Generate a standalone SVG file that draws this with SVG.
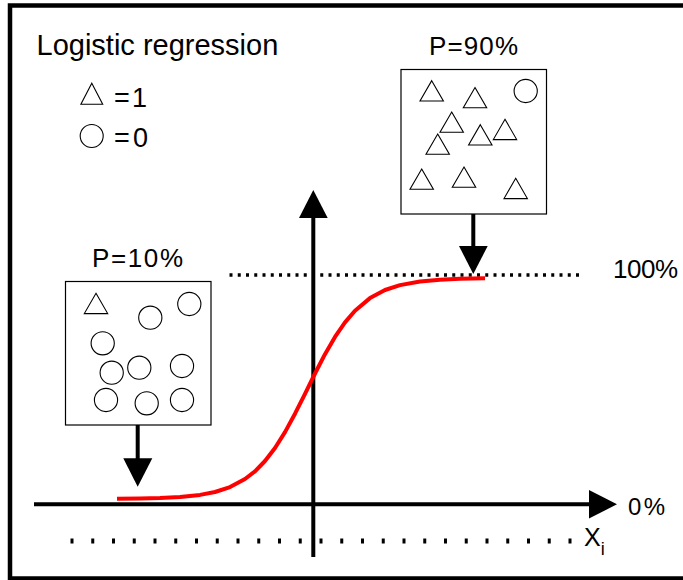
<svg xmlns="http://www.w3.org/2000/svg" width="683" height="580" viewBox="0 0 683 580">
  <style>
    .txt { font-family: "Liberation Sans", Arial, sans-serif; fill: #000; }
    .box { fill: #fff; stroke: #000; stroke-width: 1.2; }
    .sym { fill: none; stroke: #000; stroke-width: 1.1; }
    .axis { stroke: #000; stroke-width: 4; fill: none; }
    .head { fill: #000; stroke: none; }
    .dotsTop { stroke: #000; stroke-width: 3.5; stroke-dasharray: 3 5.25; fill: none; }
    .dotsBot { stroke: #000; stroke-width: 5; stroke-dasharray: 3 17.75; fill: none; }
    .curve { fill: none; stroke: #ff0000; stroke-width: 4; stroke-linejoin: round; }
  </style>
  <defs>
    <path id="tri" d="M 0 0 l 11.7 20.3 h -23.4 z"/>
  </defs>
  <rect width="683" height="580" fill="#fff"/>

  <g id="frame">
    <rect x="10" y="5.5" width="690" height="573" fill="none" stroke="#000" stroke-width="4.5"/>
  </g>

  <g id="title">
    <text class="txt" x="36.5" y="55" font-size="29">Logistic regression</text>
  </g>

  <g id="legend">
    <path class="sym" d="M 91.8 83.3 l 10.9 21 h -21.8 z"/>
    <text class="txt" x="114" y="106.5" font-size="27" textLength="33" lengthAdjust="spacing">=1</text>
    <circle class="sym" cx="91.7" cy="136" r="11.5"/>
    <text class="txt" x="114" y="146.5" font-size="27" textLength="34" lengthAdjust="spacing">=0</text>
  </g>

  <g id="box-p90">
    <text class="txt" x="429" y="55" font-size="26" textLength="89" lengthAdjust="spacing">P=90%</text>
    <rect class="box" x="401" y="69.5" width="145.5" height="144.5"/>
    <use href="#tri" class="sym" x="431.7" y="80.7"/>
    <use href="#tri" class="sym" x="475" y="87.5"/>
    <circle class="sym" cx="525.7" cy="91" r="11.6"/>
    <use href="#tri" class="sym" x="451.7" y="112"/>
    <use href="#tri" class="sym" x="480.3" y="124.7"/>
    <use href="#tri" class="sym" x="505" y="119.3"/>
    <use href="#tri" class="sym" x="437.7" y="134"/>
    <use href="#tri" class="sym" x="421.7" y="169"/>
    <use href="#tri" class="sym" x="464" y="167"/>
    <use href="#tri" class="sym" x="515.7" y="178.3"/>
  </g>

  <g id="box-p10">
    <text class="txt" x="92" y="266.5" font-size="26" textLength="91" lengthAdjust="spacing">P=10%</text>
    <rect class="box" x="65.5" y="281.5" width="145.5" height="143.5"/>
    <use href="#tri" class="sym" x="96" y="293.3"/>
    <circle class="sym" cx="189.3" cy="304" r="11.6"/>
    <circle class="sym" cx="150.3" cy="317.7" r="11.6"/>
    <circle class="sym" cx="102.7" cy="343.3" r="11.6"/>
    <circle class="sym" cx="111.7" cy="372.7" r="11.6"/>
    <circle class="sym" cx="139.3" cy="367.7" r="11.6"/>
    <circle class="sym" cx="182" cy="366" r="11.6"/>
    <circle class="sym" cx="106" cy="400" r="11.6"/>
    <circle class="sym" cx="146.7" cy="403.3" r="11.6"/>
    <circle class="sym" cx="182" cy="400" r="11.6"/>
  </g>

  <g id="guides">
    <line class="dotsTop" x1="229.5" y1="275" x2="581" y2="275"/>
    <line class="dotsBot" x1="70.5" y1="541" x2="573" y2="541"/>
    <text class="txt" x="613" y="278" font-size="26" textLength="65" lengthAdjust="spacing">100%</text>
    <text class="txt" x="628" y="515" font-size="24" textLength="37" lengthAdjust="spacing">0%</text>
    <text class="txt" x="584" y="546" font-size="25">X<tspan dy="9" font-size="18">i</tspan></text>
  </g>

  <g id="axes">
    <line class="axis" x1="34" y1="504.3" x2="590" y2="504.3"/>
    <polygon class="head" points="589,490 617,504.3 589,518.5"/>
    <line class="axis" x1="313.3" y1="557" x2="313.3" y2="217"/>
    <polygon class="head" points="299,218 313.3,190 327.7,218"/>
  </g>

  <g id="curve">
    <polyline class="curve" points="117,498.8 140,498.55 160,498.05 180,497.02 200,494.9 215,491.98 230,487.06 245,479.04 255,471.3 265,461 275,447.97 285,432.1 295,413.7 305,393.8 315,373.5 325,354.2 335,336.96 345,322.4 355,310.75 370,298.1 385,290 400,285.1 420,281.43 440,279.65 460,278.8 485,278.3"/>
  </g>

  <g id="connectors">
    <line class="axis" x1="473.3" y1="214" x2="473.3" y2="247"/>
    <polygon class="head" points="459,246 473.3,274 487.7,246"/>
    <line class="axis" x1="137.7" y1="425" x2="137.7" y2="459"/>
    <polygon class="head" points="123.3,458.3 137.7,486.7 152.3,458.3"/>
  </g>
</svg>
